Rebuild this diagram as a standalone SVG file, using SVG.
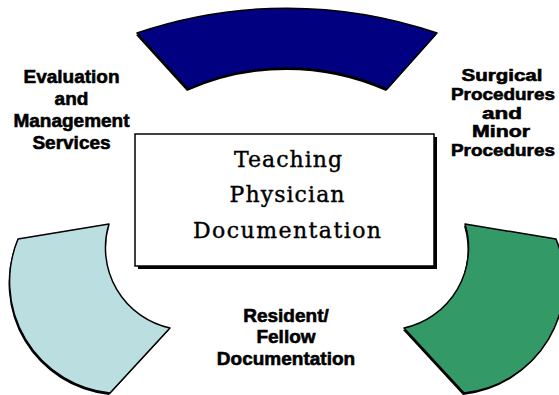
<svg xmlns="http://www.w3.org/2000/svg" width="559" height="395" viewBox="0 0 559 395">
  <style>
    .shadow { fill: #000; }
    .seg { stroke: #000; stroke-width: 1.5; stroke-linejoin: round; }
    .lbl { font-family: "Liberation Sans", Arial, sans-serif; font-weight: bold; font-size: 19px; text-anchor: middle; fill: #000; stroke: #000; stroke-width: 0.6; }
    .lbl-s { font-size: 17px; }
    .title { font-family: "DejaVu Serif", "Liberation Serif", serif; font-size: 22px; text-anchor: middle; fill: #000; stroke: #000; stroke-width: 0.4; }
  </style>
  <rect width="559" height="395" fill="#fff"/>

  <g id="node-top-arc">
    <path class="shadow" transform="translate(-1,2)" d="M137,33 A466,466 0 0 1 437,33 L387,89 A245,245 0 0 0 188,89 Z"/>
    <path class="seg" fill="#000080" d="M137,33 A466,466 0 0 1 437,33 L387,89 A245,245 0 0 0 188,89 Z"/>
  </g>

  <g id="node-left-arc">
    <path class="shadow" transform="translate(-1,2)" d="M18,239 L109,224 A82,82 0 0 0 170,328 L110,393 A112,112 0 0 1 18,239 Z"/>
    <path class="seg" fill="#bbdfe1" d="M18,239 L109,224 A82,82 0 0 0 170,328 L110,393 A112,112 0 0 1 18,239 Z"/>
  </g>

  <g id="node-right-arc">
    <path class="shadow" transform="translate(-1,2)" d="M556,239 L465,224 A82,82 0 0 1 404,328 L464,393 A112,112 0 0 0 556,239 Z"/>
    <path class="seg" fill="#339966" d="M556,239 L465,224 A82,82 0 0 1 404,328 L464,393 A112,112 0 0 0 556,239 Z"/>
  </g>

  <g id="node-center">
    <rect class="shadow" x="138" y="137" width="299" height="132"/>
    <rect x="135" y="134" width="299" height="132" fill="#fff" stroke="#000" stroke-width="1.5"/>
    <text class="title" x="288" y="167" textLength="108" lengthAdjust="spacing">Teaching</text>
    <text class="title" x="287" y="202" textLength="115" lengthAdjust="spacing">Physician</text>
    <text class="title" x="287" y="238" textLength="188" lengthAdjust="spacing">Documentation</text>
  </g>

  <g id="label-evaluation">
    <text class="lbl" x="71.5" y="83">Evaluation</text>
    <text class="lbl" x="71.5" y="105">and</text>
    <text class="lbl" x="71.5" y="127">Management</text>
    <text class="lbl" x="71.5" y="149">Services</text>
  </g>

  <g id="label-surgical">
    <text class="lbl lbl-s" x="502" y="81" textLength="81" lengthAdjust="spacingAndGlyphs">Surgical</text>
    <text class="lbl lbl-s" x="503" y="100" textLength="104" lengthAdjust="spacingAndGlyphs">Procedures</text>
    <text class="lbl lbl-s" x="502" y="119" textLength="40" lengthAdjust="spacingAndGlyphs">and</text>
    <text class="lbl lbl-s" x="501" y="137" textLength="58" lengthAdjust="spacingAndGlyphs">Minor</text>
    <text class="lbl lbl-s" x="503" y="156" textLength="104" lengthAdjust="spacingAndGlyphs">Procedures</text>
  </g>

  <g id="label-resident">
    <text class="lbl" x="286" y="322">Resident/</text>
    <text class="lbl" x="286" y="343">Fellow</text>
    <text class="lbl" x="286" y="365">Documentation</text>
  </g>

  <g id="connectors"/>
</svg>
